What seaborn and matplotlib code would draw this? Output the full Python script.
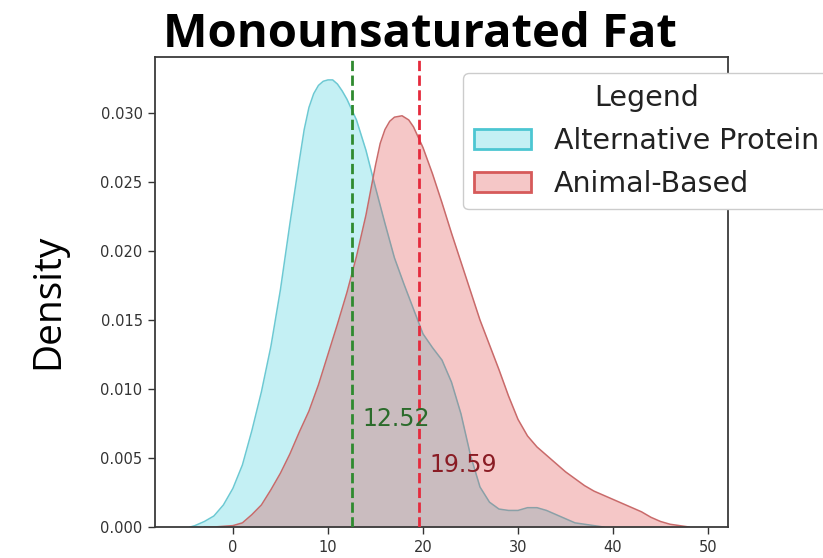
import numpy as np
import pandas as pd
import matplotlib
matplotlib.use("Agg")
import matplotlib.pyplot as plt
import seaborn as sns
from matplotlib.patches import Patch

# ---- data ----
groups = ["Alternative Protein", "Animal-Based"]

alt_x = [-4.5, -4, -3, -2, -1, 0, 1, 2, 3, 4, 5, 6, 7, 7.5, 8, 8.5, 9, 9.5, 10, 10.5,
         11, 11.5, 12, 13, 14, 15, 16, 17, 18, 19, 20, 21, 22, 23, 24, 25, 26, 27, 28,
         29, 30, 31, 32, 33, 34, 35, 36, 37, 38, 39]
alt_density = [0.0, 0.0001, 0.0004, 0.0008, 0.0016, 0.0028, 0.0045, 0.0070, 0.0098,
               0.0131, 0.0172, 0.0220, 0.0266, 0.0288, 0.0304, 0.0314, 0.0320, 0.0323,
               0.0324, 0.0324, 0.0321, 0.0316, 0.0310, 0.0295, 0.0273, 0.0246, 0.0220,
               0.0195, 0.0176, 0.0158, 0.0140, 0.0130, 0.0121, 0.0105, 0.0082, 0.0052,
               0.0029, 0.0018, 0.0013, 0.0012, 0.0012, 0.0014, 0.0014, 0.0012, 0.0009,
               0.0006, 0.0003, 0.0002, 0.0001, 0.0]

animal_x = [-3, -2, -1, 0, 1, 2, 3, 4, 5, 6, 7, 8, 9, 10, 11, 12, 13, 14, 15, 15.5,
            16, 16.5, 17, 17.8, 18.5, 19, 20, 21, 22, 23, 24, 25, 26, 27, 28, 29, 30,
            31, 32, 33, 34, 35, 36, 37, 38, 39, 40, 41, 42, 43, 44, 45, 46, 47, 48]
animal_density = [0.0, 0.0, 0.00005, 0.0001, 0.0003, 0.0009, 0.0016, 0.0027, 0.0039,
                  0.0053, 0.0069, 0.0084, 0.0103, 0.0125, 0.0147, 0.0170, 0.0196,
                  0.0226, 0.0262, 0.0278, 0.0288, 0.0294, 0.0297, 0.0298, 0.0295,
                  0.0290, 0.0275, 0.0256, 0.0235, 0.0213, 0.0192, 0.0171, 0.0150,
                  0.0132, 0.0114, 0.0095, 0.0078, 0.0066, 0.0058, 0.0052, 0.0046,
                  0.0040, 0.0035, 0.0030, 0.0026, 0.0023, 0.0020, 0.0017, 0.0014,
                  0.0011, 0.0007, 0.0004, 0.0002, 0.0001, 0.0]

means = [12.52, 19.59]
mean_labels = ["12.52", "19.59"]
label_y = [0.0078, 0.0045]

x_ticks = [0, 10, 20, 30, 40, 50]
y_ticks = [0.000, 0.005, 0.010, 0.015, 0.020, 0.025, 0.030]

title = "Monounsaturated Fat"
y_label = "Density"
legend_title = "Legend"

# ---- styling ----
alt_face = (40 / 255, 200 / 255, 215 / 255, 0.27)
alt_edge = "#6cc9d3"
ani_face = (220 / 255, 50 / 255, 50 / 255, 0.27)
ani_edge = "#c96a6a"

W, H = 823, 558
fig = plt.figure(figsize=(W / 100, H / 100), dpi=100)
ax = fig.add_axes([155 / W, 1 - 527 / H, (728 - 155) / W, (527 - 57) / H])

df_alt = pd.DataFrame({"x": alt_x, "density": alt_density})
df_ani = pd.DataFrame({"x": animal_x, "density": animal_density})

ax.fill_between(df_alt["x"], df_alt["density"], color=alt_face, lw=0, zorder=1.0)
sns.lineplot(data=df_alt, x="x", y="density", ax=ax, color=alt_edge, lw=1.1,
             sort=False, estimator=None, zorder=1.1)
ax.fill_between(df_ani["x"], df_ani["density"], color=ani_face, lw=0, zorder=1.2)
sns.lineplot(data=df_ani, x="x", y="density", ax=ax, color=ani_edge, lw=1.1,
             sort=False, estimator=None, zorder=1.3)

line_colors = ["#2f8a2f", "#e52a3c"]
text_colors = ["#2b6b2b", "#8a1c24"]
for m, lab, ly, lc, tc in zip(means, mean_labels, label_y, line_colors, text_colors):
    ax.axvline(m, color=lc, ls="--", lw=2, zorder=3)
    ax.text(m + 1.1, ly, lab, color=tc, fontsize=17, ha="left", va="center", zorder=4)

ax.set_xlim(-8.2, 52.1)
ax.set_ylim(0, 0.03406)
ax.set_xticks(x_ticks)
ax.set_yticks(y_ticks)
ax.set_yticklabels([f"{v:.3f}" for v in y_ticks])
ax.set_xlabel("")
ax.set_ylabel("")
ax.tick_params(axis="both", labelsize=10.5, colors="#333333", length=5, width=1, pad=4)
for s in ax.spines.values():
    s.set_color("#3a3a3a")
    s.set_linewidth(1.3)

handles = [
    Patch(facecolor=alt_face, edgecolor="#4cc6d2", lw=2, label=groups[0]),
    Patch(facecolor=ani_face, edgecolor="#d65a5a", lw=2, label=groups[1]),
]
leg = ax.legend(handles=handles, title=legend_title, loc="upper left",
                bbox_to_anchor=(463 / W, 1 - 73 / H), bbox_transform=fig.transFigure,
                borderaxespad=0, fontsize=20.5, title_fontsize=20.5, framealpha=1,
                edgecolor="#cccccc", fancybox=True, labelspacing=0.52)
for t in leg.get_texts():
    t.set_color("#222222")
leg.get_title().set_color("#222222")
leg.set_zorder(10)

fig.text(420 / W, 1 - 47 / H, title, family="Open Sans", fontweight="bold",
         fontsize=34, ha="center", va="baseline", color="black")
fig.text(58 / W, 1 - 301 / H, y_label, family="Open Sans", fontsize=28,
         rotation=90, rotation_mode="anchor", ha="center", va="baseline",
         color="black")

fig.savefig("out.png", dpi=100)
